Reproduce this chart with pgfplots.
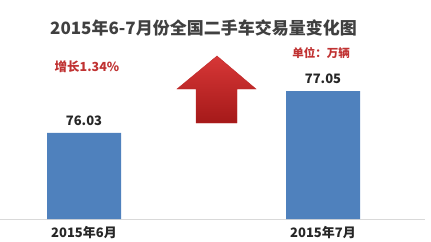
\documentclass[border=0pt]{standalone}
\usepackage{fontspec}
\setmainfont{Noto Sans CJK SC}
\usepackage{pgfplots}
\pgfplotsset{compat=1.18}
\definecolor{barblue}{RGB}{79,129,189}
\definecolor{titlegray}{RGB}{64,64,64}
\definecolor{txtred}{RGB}{192,50,50}
\definecolor{basegray}{RGB}{217,217,217}
\begin{document}
\begin{tikzpicture}[x=1bp,y=1bp]
\begin{axis}[
  scale only axis, width=425bp, height=179bp,
  xmin=-0.3515, xmax=1.4268, ymin=73.94, ymax=78.29,
  axis x line=bottom, axis y line=none,
  x axis line style={-, draw=basegray, line width=1bp},
  xtick={0,1}, xticklabels={2015年6月,2015年7月},
  major tick length=0,
  xticklabel style={font=\bfseries\fontsize{13bp}{13bp}\selectfont, text=black!85, yshift=-3.5bp},
  ytick=\empty,
  ybar, bar width=74bp,
  nodes near coords,
  /pgf/number format/assume math mode=true,
  /pgf/number format/fixed, /pgf/number format/precision=2,
  every node near coord/.append style={font=\bfseries\fontsize{13bp}{13bp}\selectfont, text=black!85, yshift=4bp},
]
\addplot[fill=barblue, draw=none] coordinates {(0,76.03) (1,77.05)};
\coordinate (O) at (rel axis cs:0,0);
\end{axis}
\begin{scope}[shift={(O)}, yshift=-23bp]
\node[font=\bfseries\fontsize{17bp}{17bp}\selectfont, text=titlegray] at (203.5,214) {2015年6-7月份全国二手车交易量变化图};
\node[font=\bfseries\fontsize{12.5bp}{12.5bp}\selectfont, text=txtred] at (87,175) {增长1.34\%};
\node[font=\bfseries\fontsize{11.5bp}{11.5bp}\selectfont, text=txtred] at (321,189) {单位：万辆};
\shade[top color={rgb,255:red,215;green,55;blue,55}, bottom color={rgb,255:red,165;green,25;blue,25}, draw={rgb,255:red,190;green,40;blue,40}]
  (217,186) -- (256,153) -- (237,153) -- (237,119) -- (196,119) -- (196,153) -- (177,153) -- cycle;
\pgfresetboundingbox
\useasboundingbox (0,0) rectangle (431,242);
\end{scope}
\end{tikzpicture}
\end{document}
